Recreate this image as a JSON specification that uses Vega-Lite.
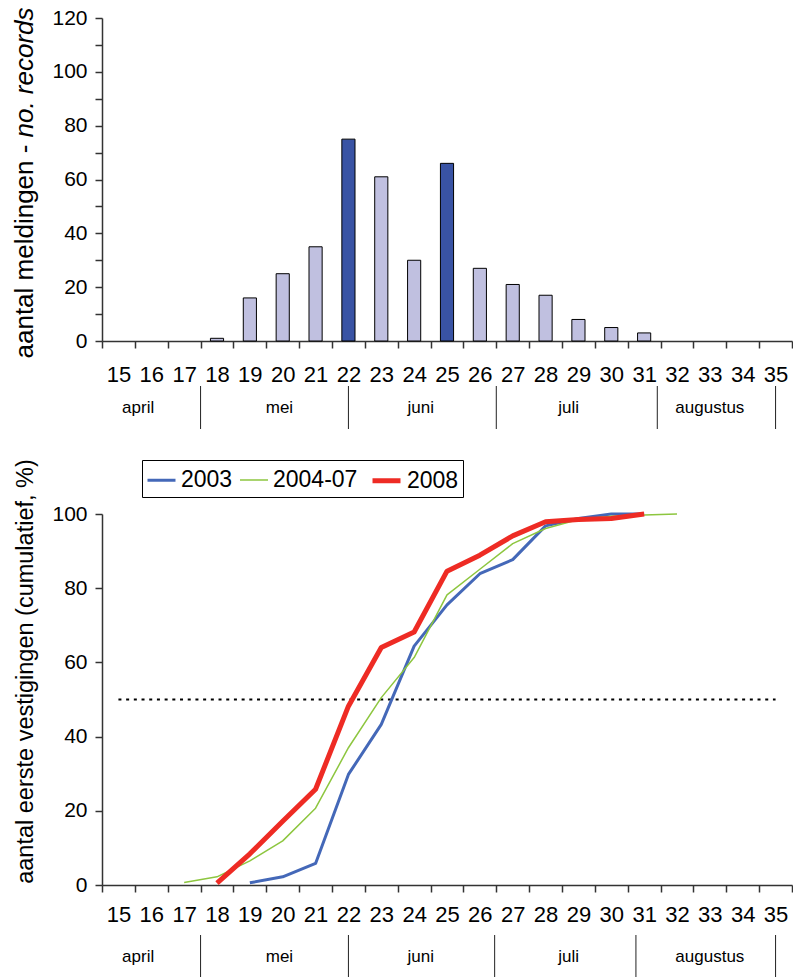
{
  "$schema": "https://vega.github.io/schema/vega-lite/v6.json",
  "background": "white",
  "padding": {"left": 11, "top": 6, "right": 0, "bottom": 0},
  "config": {
    "font": "Liberation Sans",
    "view": {"stroke": null},
    "axis": {"labelFont": "Liberation Sans", "titleFont": "Liberation Sans", "labelColor": "black", "titleColor": "black", "titleFontWeight": "normal", "domainColor": "#333", "tickColor": "#333", "domainWidth": 1.5, "tickWidth": 1.5, "tickSize": 7, "grid": false, "labelOverlap": false, "labelBound": false}
  },
  "datasets": {
    "meldingen": [
      {"week": 18, "aantal": 1, "type": "overig"},
      {"week": 19, "aantal": 16, "type": "overig"},
      {"week": 20, "aantal": 25, "type": "overig"},
      {"week": 21, "aantal": 35, "type": "overig"},
      {"week": 22, "aantal": 75, "type": "piek"},
      {"week": 23, "aantal": 61, "type": "overig"},
      {"week": 24, "aantal": 30, "type": "overig"},
      {"week": 25, "aantal": 66, "type": "piek"},
      {"week": 26, "aantal": 27, "type": "overig"},
      {"week": 27, "aantal": 21, "type": "overig"},
      {"week": 28, "aantal": 17, "type": "overig"},
      {"week": 29, "aantal": 8, "type": "overig"},
      {"week": 30, "aantal": 5, "type": "overig"},
      {"week": 31, "aantal": 3, "type": "overig"}
    ],
    "cumulatief": [
      {"reeks": "2003", "week": 19, "percentage": 0.6},
      {"reeks": "2003", "week": 20, "percentage": 2.2},
      {"reeks": "2003", "week": 21, "percentage": 5.8},
      {"reeks": "2003", "week": 22, "percentage": 29.8},
      {"reeks": "2003", "week": 23, "percentage": 43.3},
      {"reeks": "2003", "week": 24, "percentage": 64.4},
      {"reeks": "2003", "week": 25, "percentage": 75.5},
      {"reeks": "2003", "week": 26, "percentage": 83.9},
      {"reeks": "2003", "week": 27, "percentage": 87.7},
      {"reeks": "2003", "week": 28, "percentage": 96.8},
      {"reeks": "2003", "week": 29, "percentage": 98.8},
      {"reeks": "2003", "week": 30, "percentage": 100},
      {"reeks": "2003", "week": 31, "percentage": 100},
      {"reeks": "2004-07", "week": 17, "percentage": 0.7},
      {"reeks": "2004-07", "week": 18, "percentage": 2.2},
      {"reeks": "2004-07", "week": 19, "percentage": 6.5},
      {"reeks": "2004-07", "week": 20, "percentage": 11.9},
      {"reeks": "2004-07", "week": 21, "percentage": 20.7},
      {"reeks": "2004-07", "week": 22, "percentage": 37.0},
      {"reeks": "2004-07", "week": 23, "percentage": 50.5},
      {"reeks": "2004-07", "week": 24, "percentage": 61.3},
      {"reeks": "2004-07", "week": 25, "percentage": 78.2},
      {"reeks": "2004-07", "week": 26, "percentage": 85.1},
      {"reeks": "2004-07", "week": 27, "percentage": 92.0},
      {"reeks": "2004-07", "week": 28, "percentage": 96.1},
      {"reeks": "2004-07", "week": 29, "percentage": 98.5},
      {"reeks": "2004-07", "week": 30, "percentage": 99.4},
      {"reeks": "2004-07", "week": 31, "percentage": 99.7},
      {"reeks": "2004-07", "week": 32, "percentage": 100},
      {"reeks": "2008", "week": 18, "percentage": 0.5},
      {"reeks": "2008", "week": 19, "percentage": 8.4},
      {"reeks": "2008", "week": 20, "percentage": 17.2},
      {"reeks": "2008", "week": 21, "percentage": 25.8},
      {"reeks": "2008", "week": 22, "percentage": 48.2},
      {"reeks": "2008", "week": 23, "percentage": 64.0},
      {"reeks": "2008", "week": 24, "percentage": 68.2},
      {"reeks": "2008", "week": 25, "percentage": 84.6},
      {"reeks": "2008", "week": 26, "percentage": 88.9},
      {"reeks": "2008", "week": 27, "percentage": 94.1},
      {"reeks": "2008", "week": 28, "percentage": 97.9},
      {"reeks": "2008", "week": 29, "percentage": 98.5},
      {"reeks": "2008", "week": 30, "percentage": 98.8},
      {"reeks": "2008", "week": 31, "percentage": 100}
    ],
    "referentie": [
      {"week": 15, "percentage": 50},
      {"week": 35, "percentage": 50}
    ],
    "maanden": [
      {"maand": "april", "positie": 15.6},
      {"maand": "mei", "positie": 19.9},
      {"maand": "juni", "positie": 24.2},
      {"maand": "juli", "positie": 28.7},
      {"maand": "augustus", "positie": 33.0}
    ],
    "grenzen_boven": [
      {"grens": 17.5},
      {"grens": 22.0},
      {"grens": 26.5},
      {"grens": 31.4},
      {"grens": 35.0}
    ],
    "grenzen_onder": [
      {"grens": 17.5},
      {"grens": 22.0},
      {"grens": 26.45},
      {"grens": 30.75},
      {"grens": 35.0}
    ]
  },
  "spacing": 28,
  "resolve": {"scale": {"color": "independent", "strokeWidth": "independent"}, "legend": {"color": "independent", "strokeWidth": "independent"}},
  "vconcat": [
    {
      "spacing": 0,
      "vconcat": [
        {
          "width": 690,
          "height": 323,
          "data": {"name": "meldingen"},
          "layer": [
            {
              "mark": {"type": "bar", "width": {"band": 0.4}, "stroke": "black", "strokeWidth": 1},
              "encoding": {
                "x": {
                  "field": "week", "type": "ordinal",
                  "scale": {"type": "band", "paddingInner": 0, "paddingOuter": 0, "domain": [15,16,17,18,19,20,21,22,23,24,25,26,27,28,29,30,31,32,33,34,35]},
                  "axis": {"title": null, "labelAngle": 0, "tickBand": "extent", "labelFontSize": 22, "labelPadding": 16}
                },
                "y": {
                  "field": "aantal", "type": "quantitative",
                  "scale": {"domain": [0, 120], "nice": false},
                  "axis": {"orient": "left", "values": [0,10,20,30,40,50,60,70,80,90,100,110,120], "labelExpr": "datum.value % 20 === 0 ? datum.label : ''", "labelFontSize": 21, "labelPadding": 8, "title": "aantal meldingen - ", "titleFontSize": 26, "titleAngle": 270, "titleAlign": "left", "titleY": 340, "titlePadding": 14}
                },
                "color": {"field": "type", "type": "nominal", "scale": {"domain": ["overig", "piek"], "range": ["#C0C0E0", "#3953A4"]}, "legend": null}
              }
            },
            {
              "mark": {"type": "bar", "width": {"band": 0.4}, "opacity": 0},
              "encoding": {
                "x": {"field": "week", "type": "ordinal"},
                "y": {
                  "field": "aantal", "type": "quantitative",
                  "axis": {"orient": "left", "values": [0,10,20,30,40,50,60,70,80,90,100,110,120], "labelExpr": "datum.value % 20 === 0 ? datum.label : ''", "labelFontSize": 21, "labelPadding": 8, "labelOpacity": 0, "tickOpacity": 0, "domainOpacity": 0, "title": "no. records", "titleFontStyle": "italic", "titleFontSize": 26, "titleAngle": 270, "titleAlign": "left", "titleY": 119, "titlePadding": 14}
                }
              }
            }
          ],
          "resolve": {"axis": {"y": "independent"}}
        },
        {
          "width": 690,
          "height": 43,
          "layer": [
            {
              "data": {"name": "grenzen_boven"},
              "mark": {"type": "rule", "color": "#222", "strokeWidth": 1},
              "encoding": {"x": {"field": "grens", "type": "quantitative", "scale": {"domain": [14.5, 35.5], "nice": false, "zero": false}, "axis": null}}
            },
            {
              "data": {"name": "maanden"},
              "mark": {"type": "text", "fontSize": 17, "font": "Liberation Sans", "color": "black"},
              "encoding": {"x": {"field": "positie", "type": "quantitative"}, "text": {"field": "maand"}}
            }
          ]
        }
      ]
    },
    {
      "spacing": 9,
      "vconcat": [
        {
          "width": 690,
          "height": 371,
          "layer": [
            {
              "data": {"name": "referentie"},
              "mark": {"type": "line", "color": "black", "strokeWidth": 2, "strokeDash": [3, 4.7]},
              "encoding": {
                "x": {
                  "field": "week", "type": "ordinal",
                  "scale": {"type": "band", "paddingInner": 0, "paddingOuter": 0, "domain": [15,16,17,18,19,20,21,22,23,24,25,26,27,28,29,30,31,32,33,34,35]},
                  "axis": {"title": null, "labelAngle": 0, "tickBand": "extent", "labelFontSize": 22, "labelPadding": 12}
                },
                "y": {
                  "field": "percentage", "type": "quantitative",
                  "scale": {"domain": [0, 100], "nice": false},
                  "axis": {"values": [0,10,20,30,40,50,60,70,80,90,100], "labelExpr": "datum.value % 20 === 0 ? datum.label : ''", "labelFontSize": 21, "labelPadding": 8, "title": "aantal eerste vestigingen (cumulatief, %)", "titleFontSize": 23.5, "titleY": 157, "titlePadding": 14}
                }
              }
            },
            {
              "data": {"name": "cumulatief"},
              "mark": {"type": "line", "strokeJoin": "round"},
              "encoding": {
                "x": {"field": "week", "type": "ordinal"},
                "y": {"field": "percentage", "type": "quantitative"},
                "color": {
                  "field": "reeks", "type": "nominal",
                  "scale": {"domain": ["2003", "2004-07", "2008"], "range": ["#4468B8", "#8DC63F", "#EE2B24"]},
                  "legend": {"title": null, "orient": "none", "legendX": 40, "legendY": -54, "direction": "horizontal", "strokeColor": "black", "fillColor": "white", "padding": 4, "labelFontSize": 23, "labelFont": "Liberation Sans", "labelColor": "black", "symbolType": "stroke", "symbolSize": 784, "labelOffset": 4, "columnPadding": 4}
                },
                "strokeWidth": {
                  "field": "reeks", "type": "nominal",
                  "scale": {"type": "ordinal", "domain": ["2003", "2004-07", "2008"], "range": [3, 1.5, 5]},
                  "legend": {"title": null, "orient": "none", "legendX": 40, "legendY": -54, "direction": "horizontal", "strokeColor": "black", "fillColor": "white", "padding": 4, "labelFontSize": 23, "labelFont": "Liberation Sans", "labelColor": "black", "symbolType": "stroke", "symbolSize": 784, "labelOffset": 4, "columnPadding": 4}
                }
              }
            }
          ]
        },
        {
          "width": 690,
          "height": 43,
          "layer": [
            {
              "data": {"name": "grenzen_onder"},
              "mark": {"type": "rule", "color": "#222", "strokeWidth": 1},
              "encoding": {"x": {"field": "grens", "type": "quantitative", "scale": {"domain": [14.5, 35.5], "nice": false, "zero": false}, "axis": null}}
            },
            {
              "data": {"name": "maanden"},
              "mark": {"type": "text", "fontSize": 17, "font": "Liberation Sans", "color": "black"},
              "encoding": {"x": {"field": "positie", "type": "quantitative"}, "text": {"field": "maand"}}
            }
          ]
        }
      ]
    }
  ]
}
